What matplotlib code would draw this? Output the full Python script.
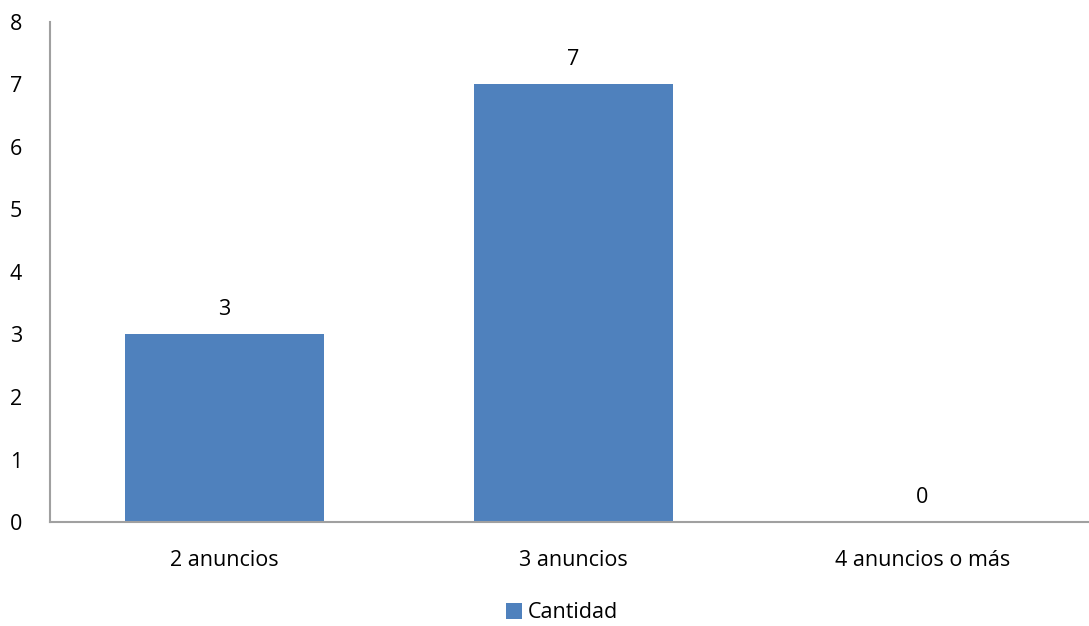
import matplotlib
matplotlib.use("Agg")
import matplotlib.pyplot as plt
from matplotlib.patches import Patch

categories = ["2 anuncios", "3 anuncios", "4 anuncios o más"]
cantidad = [3, 7, 0]
y_ticks = [0, 1, 2, 3, 4, 5, 6, 7, 8]

plt.rcParams["font.family"] = ["Open Sans", "DejaVu Sans"]
bar_color = "#4F81BD"
axis_color = "#A0A0A0"
fs = 15.5

fig = plt.figure(figsize=(10.89, 6.26), dpi=100)
ax = fig.add_axes([50 / 1089, (626 - 522) / 626, 1047 / 1089, (522 - 22) / 626])

x = list(range(len(categories)))
ax.bar(x, cantidad, width=0.573, color=bar_color, zorder=2)

for xi, v in zip(x, cantidad):
    ax.text(xi, v + 0.23, str(v), ha="center", va="bottom", fontsize=fs, color="#000000")

ax.set_xlim(-0.5, len(categories) - 0.5)
ax.set_ylim(0, 8)
ax.set_yticks(y_ticks)
ax.set_xticks(x)
ax.set_xticklabels(categories, fontsize=fs)
ax.tick_params(axis="y", labelsize=fs, length=0, pad=20)
ax.tick_params(axis="x", length=0, pad=20)

for side in ("top", "right"):
    ax.spines[side].set_visible(False)
for side in ("left", "bottom"):
    ax.spines[side].set_color(axis_color)
    ax.spines[side].set_linewidth(1.5)

handles = [Patch(facecolor=bar_color, label="Cantidad")]
fig.legend(handles=handles, loc="center", bbox_to_anchor=(562 / 1089, (626 - 613) / 626),
           frameon=False, fontsize=fs, handlelength=0.75, handleheight=0.75, handletextpad=0.3)

fig.savefig("out.png", dpi=100)
